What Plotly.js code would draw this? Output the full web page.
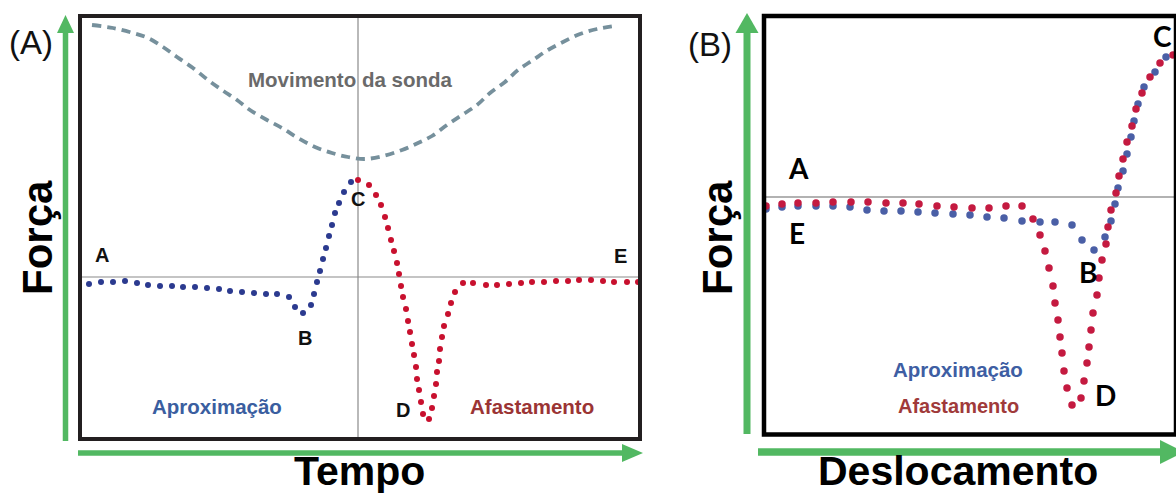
<!DOCTYPE html>
<html>
<head>
<meta charset="utf-8">
<script src="https://cdn.plot.ly/plotly-3.0.1.min.js"></script>
<style>html,body{margin:0;padding:0;background:#fff;}#chart{width:1176px;height:496px;}</style>
</head>
<body>
<div id="chart"></div>
<script>
// ---------- Panel (A): força vs tempo ----------
// probe movement (movimento da sonda)
const probeT = [-53.2,-49,-45,-42,-39,-36.2,-33,-30,-27.2,-24.2,-21.6,-18.2,-15.2,-12,-8.6,-5.2,-2,1.4,5,8.8,12,14.8,17.8,20.8,23.8,26.4,29.4,32,35,38,41,44.4,47.8,51.4];
const probeZ = [126,124.5,122,119.5,115,110,104.5,98.5,93.5,88.5,83.5,78.5,74.5,69.5,65,62,60,59,60.5,63.5,67,70.5,76,81,86,92,97.5,103.5,108.5,113.5,117.5,121.5,124,125.5];
// approach (aproximação)
const approachT = [-53.8,-51.4,-49,-46.6,-44.2,-42,-39.6,-37.2,-35,-32.6,-30.2,-27.8,-25.6,-23.2,-20.8,-18.4,-16.2,-13.8,-12.6,-11,-9.4,-8.8,-8.2,-7.6,-7,-6.4,-5.8,-5.2,-4.6,-3.8,-2.8,-1.4];
const approachF = [-3.5,-2.5,-2.5,-2,-3,-4,-4.5,-4.5,-5,-5,-5.5,-6,-7,-7.5,-8,-8.5,-8.5,-10,-15,-18,-14,-8.5,-2.5,3,9,14.5,20.5,26,32,37,42.5,47.5];
// withdrawal (afastamento)
const retractT = [0,2.2,3.6,4.6,5.4,6,6.6,7.2,7.8,8.2,8.6,9,9.6,10,10.4,10.8,11.2,11.6,11.8,12.2,12.6,13,14.2,14.8,15.2,15.6,15.8,16.2,16.4,16.8,17.2,18,18.6,19.4,21,23,25.6,27.8,30.2,32.6,34.8,37.2,39.6,42,44.2,46.6,49,51.2,53.8,56];
const retractF = [48.5,46,41,36,30,24.5,18.5,13,7,1.5,-4.5,-10,-16,-22,-27.5,-33.5,-39,-45,-51,-56.5,-62.5,-68.5,-71,-65.5,-59.5,-53.5,-47.5,-42,-36,-30,-24.5,-18.5,-13,-7.5,-3,-3,-4,-4,-3.5,-3,-2.5,-2.5,-2,-2,-1.5,-1.5,-2,-2.5,-2.5,-2.5];

// ---------- Panel (B): força vs deslocamento ----------
const approachD = [0.4,3.6,6.8,10.4,13.8,17.2,20.6,24,27.4,30.8,34.2,37.8,41.2,44.6,48,51.6,55.2,58.2,61.6,63.6,66,68.2,69.4,70.2,70.8,71.8,72.6,73.4,74,74.8,76,78.2,80.4];
const approachFB = [-6,-5,-4.5,-4.5,-4.5,-5,-6.5,-7,-7,-7.5,-8,-8.5,-9,-10,-10.5,-12,-12.5,-12.5,-14,-21.5,-26.5,-20,-12,-3.5,4.5,13,21.5,30,38,46.5,55,62.5,70];
const retractD = [0.4,3.6,6.8,10.4,13.8,17.4,20.8,24.4,27.8,31,34.6,38,41.6,45,48.4,51.6,53.8,55.2,56.2,57,57.8,58.2,58.8,59.2,59.6,60,60.6,61.6,63.4,64,64.6,65,65.4,65.8,66.6,67,67.6,68.4,68.8,69.4,70.4,71,71.8,72.6,73.6,74.4,75.6,77.2,79.2,81.8];
const retractFB = [-4.5,-3.5,-3,-3,-2.5,-2.5,-2.5,-3,-3,-3.5,-4.5,-5,-5.5,-5.5,-4.5,-4.5,-11,-19,-27,-35.5,-44.5,-53,-61.5,-70,-78,-87,-95.5,-104,-100.5,-92,-83,-75,-66.5,-58,-49,-40.5,-31.5,-23.5,-15,-6.5,2,10.5,19,27.5,35.5,44,52,60,67,71];

const W = 1176, H = 496;
const px = v => v / W;
const py = v => 1 - v / H;
const GREEN = '#52b862';

const traces = [
  {x: probeT, y: probeZ, xaxis: 'x', yaxis: 'y', mode: 'lines', line: {shape: 'spline', color: '#76909c', width: 3.8, dash: '9px,6px'}, hoverinfo: 'skip'},
  {x: approachT, y: approachF, xaxis: 'x', yaxis: 'y', mode: 'markers', marker: {size: 6, color: '#2b3a8f'}, hoverinfo: 'skip'},
  {x: retractT, y: retractF, xaxis: 'x', yaxis: 'y', mode: 'markers', marker: {size: 6, color: '#c8102e'}, hoverinfo: 'skip'},
  {x: approachD, y: approachFB, xaxis: 'x2', yaxis: 'y2', mode: 'markers', marker: {size: 7.5, color: '#4a5fa6'}, hoverinfo: 'skip'},
  {x: retractD, y: retractFB, xaxis: 'x2', yaxis: 'y2', mode: 'markers', marker: {size: 7.5, color: '#c41a40'}, hoverinfo: 'skip'}
];

const hidden = {showgrid: false, zeroline: false, showticklabels: false, showline: false, ticks: '', fixedrange: true};

function arrowUp(x, yBot, yTip, w, hw, hl) {
  return [
    {type: 'line', xref: 'paper', yref: 'paper', x0: px(x), x1: px(x), y0: py(yBot), y1: py(yTip + hl - 2), line: {color: GREEN, width: w}, layer: 'above'},
    {type: 'path', xref: 'paper', yref: 'paper', path: `M ${px(x - hw)} ${py(yTip + hl)} L ${px(x)} ${py(yTip)} L ${px(x + hw)} ${py(yTip + hl)} Z`, fillcolor: GREEN, line: {width: 0}, layer: 'above'}
  ];
}
function arrowRight(y, xStart, xTip, w, hw, hl) {
  return [
    {type: 'line', xref: 'paper', yref: 'paper', x0: px(xStart), x1: px(xTip - hl + 2), y0: py(y), y1: py(y), line: {color: GREEN, width: w}, layer: 'above'},
    {type: 'path', xref: 'paper', yref: 'paper', path: `M ${px(xTip - hl)} ${py(y - hw)} L ${px(xTip)} ${py(y)} L ${px(xTip - hl)} ${py(y + hw)} Z`, fillcolor: GREEN, line: {width: 0}, layer: 'above'}
  ];
}

const shapes = [
  // crosshair A
  {type: 'line', xref: 'x', yref: 'y domain', x0: 0, x1: 0, y0: 0, y1: 1, line: {color: '#8a8a8a', width: 1.2}, layer: 'below'},
  {type: 'line', xref: 'x domain', yref: 'y', x0: 0, x1: 1, y0: 0, y1: 0, line: {color: '#8a8a8a', width: 1.2}, layer: 'below'},
  // crosshair B
  {type: 'line', xref: 'x2 domain', yref: 'y2', x0: 0, x1: 1, y0: 0, y1: 0, line: {color: '#666', width: 1.2}, layer: 'below'},
  // frames
  {type: 'rect', xref: 'x domain', yref: 'y domain', x0: 0, x1: 1, y0: 0, y1: 1, line: {color: '#231f20', width: 4}, layer: 'above'},
  {type: 'rect', xref: 'x2 domain', yref: 'y2 domain', x0: 0, x1: 1, y0: 0, y1: 1, line: {color: '#000', width: 4.5}, layer: 'above'},
  ...arrowUp(65.5, 441, 15, 5.5, 8.5, 18),
  ...arrowRight(453, 78, 643, 5.5, 9, 21),
  ...arrowUp(747, 434, 13, 7, 11.5, 20),
  ...arrowRight(452, 758, 1184, 7.5, 12, 24)
];

const ann = (text, x, y, size, color, family, weight, extra) => Object.assign({
  text: text, xref: 'paper', yref: 'paper', x: px(x), y: py(y), xanchor: 'center', yanchor: 'middle',
  showarrow: false, borderpad: 0, font: {size: size, color: color, family: family, weight: weight}
}, extra || {});

const ARIAL = 'Liberation Sans, Arial, sans-serif';
const CAL = 'Lato, Open Sans, sans-serif';
const annotations = [
  ann('(A)', 31, 42, 33, '#111', ARIAL, 400),
  ann('(B)', 710, 44, 33, '#111', ARIAL, 400),
  ann('Força', 37, 238, 42, '#000', ARIAL, 700, {textangle: -90}),
  ann('Força', 717, 238, 42, '#000', ARIAL, 700, {textangle: -90}),
  ann('Tempo', 359, 471, 41, '#000', ARIAL, 700),
  ann('Deslocamento', 958, 471, 41, '#000', ARIAL, 700),
  ann('Movimento da sonda', 350, 79, 20.5, '#6a6a6a', ARIAL, 700),
  ann('A', 102, 255, 20, '#111', ARIAL, 700),
  ann('B', 305, 338, 20, '#111', ARIAL, 700),
  ann('C', 358, 199, 20, '#111', ARIAL, 700),
  ann('D', 403, 410, 20, '#111', ARIAL, 700),
  ann('E', 621, 256, 20, '#111', ARIAL, 700),
  ann('Aproximação', 217, 406, 20.5, '#3a5ea0', ARIAL, 700),
  ann('Afastamento', 532, 406, 20.5, '#9b3434', ARIAL, 700),
  ann('A', 799, 168, 28, '#000', CAL, 700),
  ann('E', 797, 233, 28, '#000', CAL, 700),
  ann('B', 1088, 272, 28, '#000', CAL, 700),
  ann('C', 1162, 36, 28, '#000', CAL, 700),
  ann('D', 1105, 395, 28, '#000', CAL, 700),
  ann('Aproximação', 958, 369, 20.5, '#3e5ea3', ARIAL, 700),
  ann('Afastamento', 958, 406, 20, '#a03a3a', ARIAL, 700)
];

const layout = {
  width: W, height: H,
  margin: {l: 0, r: 0, t: 0, b: 0},
  paper_bgcolor: '#fff', plot_bgcolor: '#fff',
  showlegend: false,
  xaxis: Object.assign({domain: [80 / W, 640 / W], range: [-55.6, 56.4], anchor: 'y'}, hidden),
  yaxis: Object.assign({domain: [1 - 439 / H, 1 - 16 / H], range: [-81, 130.5], anchor: 'x'}, hidden),
  xaxis2: Object.assign({domain: [764 / W, 1], range: [0, 82.4], anchor: 'y2'}, hidden),
  yaxis2: Object.assign({domain: [1 - 434.5 / H, 1 - 16 / H], range: [-118.75, 90.5], anchor: 'x2'}, hidden),
  shapes: shapes,
  annotations: annotations
};

Plotly.newPlot('chart', traces, layout, {staticPlot: true, displayModeBar: false});
</script>
</body>
</html>
